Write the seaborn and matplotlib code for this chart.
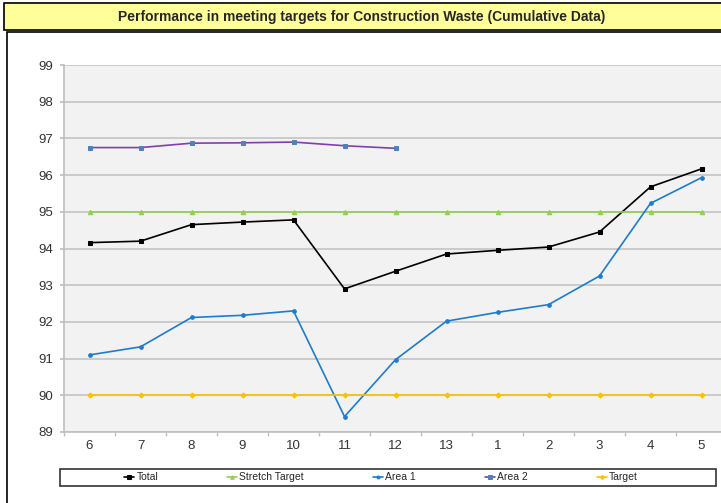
import seaborn as sns
import matplotlib.pyplot as plt
import matplotlib.patches as patches
import numpy as np
import pandas as pd

# data
months = ['6', '7', '8', '9', '10', '11', '12', '13', '1', '2', '3', '4', '5']
total = [94.16, 94.2, 94.65, 94.72, 94.78, 92.9, 93.38, 93.85, 93.95, 94.04, 94.45, 95.68, 96.17]
stretch_target = [95] * 13
area1 = [91.1, 91.32, 92.12, 92.18, 92.3, 89.42, 90.97, 92.02, 92.26, 92.47, 93.25, 95.23, 95.93]
area2 = [96.75, 96.75, 96.87, 96.88, 96.9, 96.8, 96.73] + [np.nan] * 6
target = [90] * 13

sns.set_theme(style='white')
plt.rcParams['font.family'] = ['Liberation Sans', 'DejaVu Sans']

fig = plt.figure(figsize=(7.21, 5.03), dpi=100)

# outer chart border, title bar, legend frame
fig.patches.append(patches.Rectangle((7 / 721, -0.1), 1.1, 1 - 32 / 503 + 0.1, transform=fig.transFigure,
                                     facecolor='white', edgecolor='black', linewidth=1.2, zorder=0))
fig.patches.append(patches.Rectangle((4 / 721, 1 - 30 / 503), 1.1, 27 / 503, transform=fig.transFigure,
                                     facecolor='#FFFF99', edgecolor='black', linewidth=1.2, zorder=0))
fig.patches.append(patches.Rectangle((60 / 721, 1 - 486 / 503), 656 / 721, 17 / 503, transform=fig.transFigure,
                                     facecolor='white', edgecolor='#333333', linewidth=1.2, zorder=0))
fig.text(362 / 721, 1 - 16.5 / 503, 'Performance in meeting targets for Construction Waste (Cumulative Data)',
         ha='center', va='center', fontsize=10, fontweight='bold')

ax = fig.add_axes([64 / 721, 1 - 432 / 503, 663 / 721, 367 / 503])
ax.set_zorder(2)
ax.set_facecolor('#F2F2F2')

x = np.arange(len(months))
series = [
    ('Total', total, 'black', 'black', 's', 3.2),
    ('Stretch Target', stretch_target, '#92D050', '#92D050', '^', 3.2),
    ('Area 1', area1, '#1C7CD0', '#1C7CD0', 'o', 2.6),
    ('Area 2', area2, '#7E3FB0', '#4F81BD', 's', 3.2),
    ('Target', target, '#FFC000', '#FFC000', 'D', 2.6),
]
for name, vals, lc, mc, mk, ms in series:
    sns.lineplot(x=x, y=vals, ax=ax, color=lc, linewidth=1.2, marker=mk, markersize=ms,
                 markerfacecolor=mc, markeredgecolor=mc, label=name, legend=False)

ax.set_xlim(-0.5, len(months) - 0.5)
ax.set_ylim(89, 99)
ax.set_yticks(range(89, 100))
ax.set_xticks(x)
ax.set_xticklabels(months)
ax.set_xticks(np.arange(-0.5, len(months), 1), minor=True)
ax.grid(axis='y', color='#C4C4C4', linewidth=1.2)
ax.set_axisbelow(True)
for s in ['top', 'right']:
    ax.spines[s].set_visible(False)
for s in ['left', 'bottom']:
    ax.spines[s].set_color('#BFBFBF')
    ax.spines[s].set_linewidth(1.2)
ax.tick_params(axis='y', which='major', left=True, length=3, color='#BFBFBF', labelsize=9.5, pad=5,
               labelcolor='#333333')
ax.tick_params(axis='x', which='major', bottom=False, length=0, labelsize=9.5, pad=6, labelcolor='#333333')
ax.tick_params(axis='x', which='minor', bottom=True, length=3, color='#BFBFBF')

handles, labels = ax.get_legend_handles_labels()
leg = fig.legend(handles, labels, loc='center', ncol=5,
                 bbox_to_anchor=(381 / 721, 1 - 477.5 / 503),
                 frameon=False, fontsize=7.5, columnspacing=6.6,
                 handlelength=1.0, handletextpad=0.2, borderpad=0.3, markerscale=0.8)

plt.savefig('out.png', dpi=100)
